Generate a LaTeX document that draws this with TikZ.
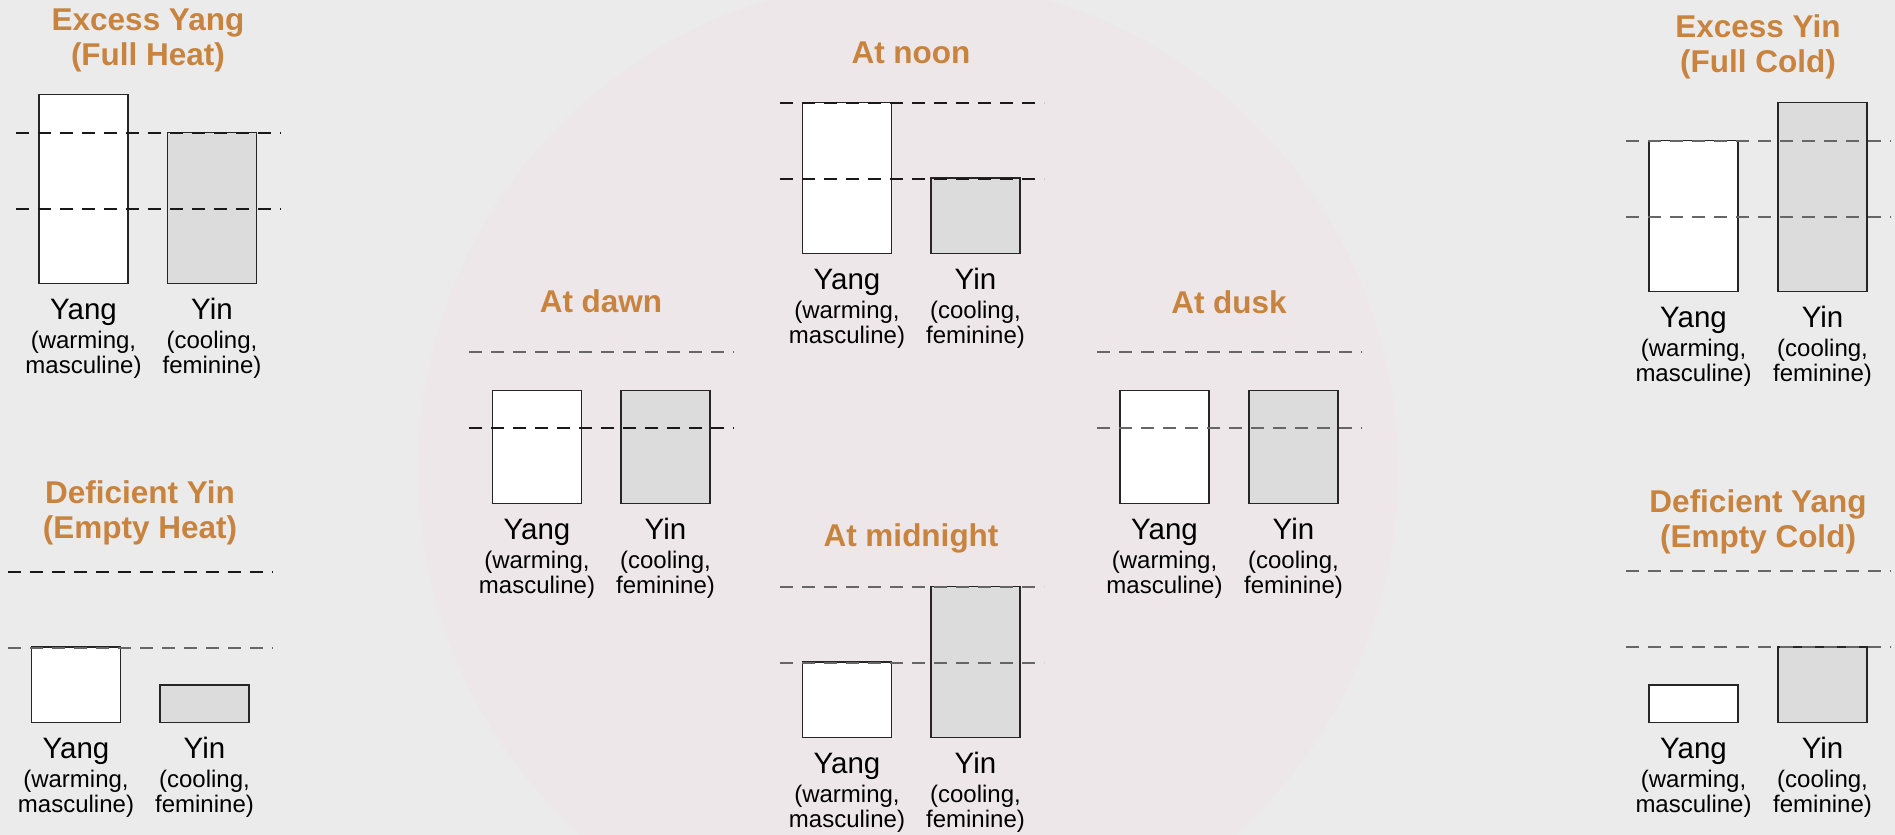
\documentclass[tikz,border=0pt]{standalone}
\usepackage{fontspec}
\setmainfont{Liberation Sans}
\usepackage{tikz}
\usetikzlibrary{positioning}
\definecolor{stonegray}{HTML}{EBEBEB}
\definecolor{dialpink}{HTML}{EDE7E9}
\definecolor{titlebrown}{HTML}{C8843E}
\definecolor{yinfill}{HTML}{DCDCDC}
\tikzset{
  yangbar/.style={draw=black!85,line width=1.2pt,fill=white,minimum width=89pt,inner sep=0pt,anchor=south},
  yinbar/.style={yangbar,fill=yinfill},
  levelthick/.style={draw=black!90,line width=2.7pt,dash pattern=on 13pt off 9pt},
  levelthin/.style={draw=black!60,line width=1.5pt,dash pattern=on 13pt off 9pt},
  phasetitle/.style={font=\bfseries\fontsize{31.5}{35}\selectfont,text=titlebrown,align=center,inner sep=0pt,anchor=base},
  barname/.style={font=\fontsize{29.5}{30}\selectfont,inner sep=0pt,anchor=base},
  barnote/.style={font=\fontsize{24}{25.5}\selectfont,inner sep=0pt,align=center,anchor=base}
}
\begin{document}
\begin{tikzpicture}[x=1pt,y=-1pt]
\useasboundingbox (0,0) rectangle (1895,835);
\fill[stonegray] (0,0) rectangle (1895,835);
\fill[dialpink] (908,470) circle[radius=490];
\node[yangbar,minimum height=189pt] (ey-yang) at (83.5,284) {};
\node[yinbar,minimum height=151pt] (ey-yin) at (212,284) {};
\node[yangbar,minimum height=75.5pt] (dy-yang) at (76,723) {};
\node[yinbar,minimum height=37.5pt] (dy-yin) at (204.5,723) {};
\node[yangbar,minimum height=113pt] (dawn-yang) at (537,504) {};
\node[yinbar,minimum height=113pt] (dawn-yin) at (665.5,504) {};
\node[yangbar,minimum height=151pt] (noon-yang) at (847,254) {};
\node[yinbar,minimum height=75.5pt] (noon-yin) at (975.5,254) {};
\node[yangbar,minimum height=75.5pt] (night-yang) at (847,738) {};
\node[yinbar,minimum height=151pt] (night-yin) at (975.5,738) {};
\node[yangbar,minimum height=113pt] (dusk-yang) at (1164.5,504) {};
\node[yinbar,minimum height=113pt] (dusk-yin) at (1293.5,504) {};
\node[yangbar,minimum height=151pt] (ec-yang) at (1693.5,292) {};
\node[yinbar,minimum height=189pt] (ec-yin) at (1822.5,292) {};
\node[yangbar,minimum height=37.5pt] (dc-yang) at (1693.5,723) {};
\node[yinbar,minimum height=75.5pt] (dc-yin) at (1822.5,723) {};
\draw[levelthick] (16,133) -- (281,133);
\draw[levelthick] (16,209) -- (281,209);
\draw[levelthick] (8,572) -- (273,572);
\draw[levelthin] (8,648) -- (273,648);
\draw[levelthin] (469,352) -- (734,352);
\draw[levelthick] (469,428) -- (734,428);
\draw[levelthick] (780,103) -- (1044,103);
\draw[levelthick] (780,179) -- (1044,179);
\draw[levelthin] (780,587) -- (1044,587);
\draw[levelthin] (780,663) -- (1044,663);
\draw[levelthin] (1097,352) -- (1362,352);
\draw[levelthin] (1097,428) -- (1362,428);
\draw[levelthin] (1626,141) -- (1891,141);
\draw[levelthin] (1626,217) -- (1891,217);
\draw[levelthin] (1626,571) -- (1891,571);
\draw[levelthin] (1626,647) -- (1891,647);
\node[phasetitle] (ey-title) at (148,65) {Excess Yang\\(Full Heat)};
\node[phasetitle] (dy-title) at (140,538) {Deficient Yin\\(Empty Heat)};
\node[phasetitle] (dawn-title) at (601,312) {At dawn};
\node[phasetitle] (noon-title) at (911,63) {At noon};
\node[phasetitle] (night-title) at (911,546) {At midnight};
\node[phasetitle] (dusk-title) at (1229,313) {At dusk};
\node[phasetitle] (ec-title) at (1758,72) {Excess Yin\\(Full Cold)};
\node[phasetitle] (dc-title) at (1758,547) {Deficient Yang\\(Empty Cold)};
\foreach \n in {ey,dy,dawn,noon,night,dusk,ec,dc}{
  \node[barname] (\n-yangname) at ([yshift=-35pt]\n-yang.south) {Yang};
  \node[barnote] (\n-yangnote) at ([yshift=-54.5pt]\n-yangname.base) {(warming,\\masculine)};
  \node[barname] (\n-yinname) at ([yshift=-35pt]\n-yin.south) {Yin};
  \node[barnote] (\n-yinnote) at ([yshift=-54.5pt]\n-yinname.base) {(cooling,\\feminine)};
}
\end{tikzpicture}
\end{document}
